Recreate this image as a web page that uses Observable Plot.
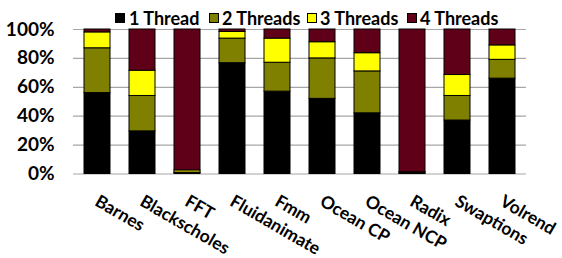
<!DOCTYPE html>
<html>
<head>
<meta charset="utf-8">
<script src="https://cdn.jsdelivr.net/npm/d3@7"></script>
<script src="https://cdn.jsdelivr.net/npm/@observablehq/plot@0.6"></script>
<style>
  html, body { margin: 0; padding: 0; background: #fff; }
  #wrap { width: 562px; height: 258px; position: relative; font-family: Lato, "Open Sans", sans-serif; font-weight: bold; }
  #legend { position: relative; height: 10px; width: 562px; z-index: 2; }
  .item { position: absolute; top: 7px; display: flex; align-items: center; font-size: 18px; line-height: 22px; color: #000; white-space: nowrap; }
  .sw { width: 10px; height: 10px; border: 1px solid #000; box-sizing: border-box; }
  #chart { position: relative; z-index: 1; }
  svg { display: block; }
</style>
</head>
<body>
<div id="wrap">
  <div id="legend"></div>
  <div id="chart"></div>
</div>
<script>
const categories = ["Barnes", "Blackscholes", "FFT", "Fluidanimate", "Fmm", "Ocean CP", "Ocean NCP", "Radix", "Swaptions", "Volrend"];
const seriesNames = ["1 Thread", "2 Threads", "3 Threads", "4 Threads"];
const seriesColors = ["#000000", "#808000", "#FFFF00", "#600018"];
const thread1 = [56, 29.5, 0.7, 76.7, 57, 52, 42, 0.3, 37, 66];
const thread2 = [31, 24.5, 0.3, 17, 20, 28, 29, 0.8, 17, 13];
const thread3 = [11, 17.5, 1.5, 4.6, 16.7, 11.2, 12.6, 0.1, 14.5, 10];
const thread4 = [2, 28.5, 97.5, 1.7, 6.3, 8.8, 16.4, 98.8, 31.5, 11];
const yTicks = [0, 20, 40, 60, 80, 100];

const seriesValues = [thread1, thread2, thread3, thread4];
const data = [];
categories.forEach((c, i) => {
  seriesNames.forEach((s, j) => data.push({category: c, series: s, value: seriesValues[j][i]}));
});

// legend
const legendX = [[115, 129], [209, 222], [307, 320], [407, 420]];
const legend = document.getElementById("legend");
seriesNames.forEach((s, j) => {
  const it = document.createElement("div");
  it.className = "item";
  it.style.left = legendX[j][0] + "px";
  const sw = document.createElement("div");
  sw.className = "sw";
  sw.style.background = seriesColors[j];
  sw.style.marginRight = (legendX[j][1] - legendX[j][0] - 10) + "px";
  it.appendChild(sw);
  it.appendChild(document.createTextNode(s));
  legend.appendChild(it);
});

const chart = Plot.plot({
  width: 562,
  height: 248,
  marginTop: 19,
  marginBottom: 84.5,
  marginLeft: 73,
  marginRight: 36,
  style: {fontFamily: "Lato, 'Open Sans', sans-serif", fontWeight: "bold", background: "transparent", color: "#000"},
  x: {domain: categories, paddingInner: 0.42, paddingOuter: 0.22, label: null},
  y: {domain: [0, 100], label: null},
  color: {domain: seriesNames, range: seriesColors},
  marks: [
    Plot.ruleY(yTicks, {stroke: "#A6A6A6", strokeWidth: 1.2}),
    Plot.barY(data, Plot.stackY({x: "category", y: "value", fill: "series", order: seriesNames, stroke: "#000", strokeWidth: 1})),
    Plot.axisY({ticks: yTicks, tickFormat: d => d + "%", tickSize: 0, tickPadding: 19, fontSize: 19, fontWeight: "bold"}),
    Plot.axisX({tickSize: 0, tickRotate: 30, textAnchor: "start", tickPadding: 26, dx: -1, fontSize: 17.5, fontWeight: "bold"})
  ]
});
document.getElementById("chart").appendChild(chart);
</script>
</body>
</html>
